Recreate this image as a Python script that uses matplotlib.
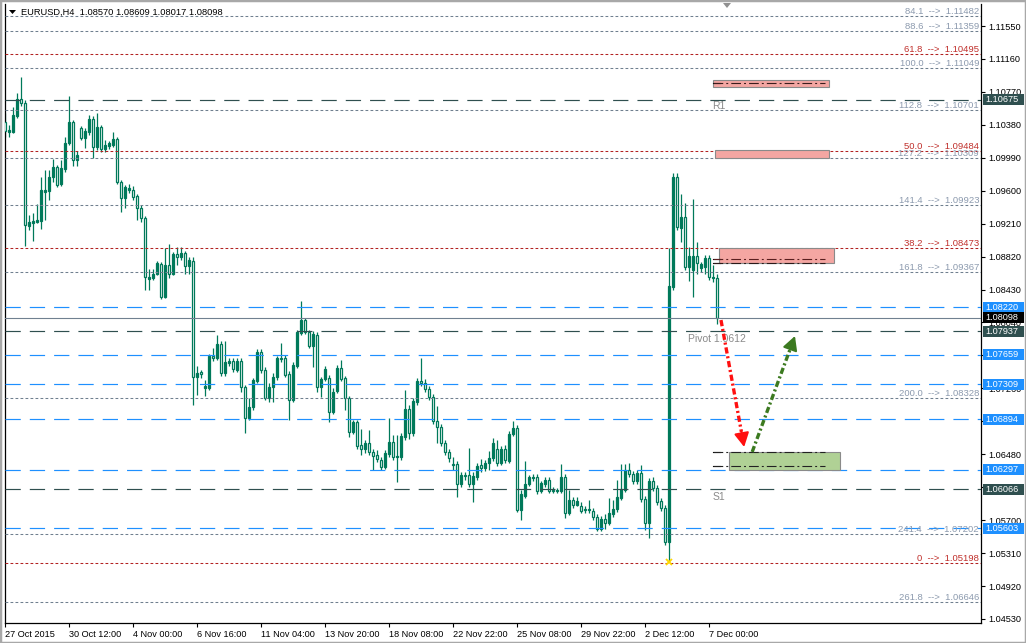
import matplotlib
matplotlib.use('Agg')
import matplotlib.pyplot as plt
from matplotlib.patches import Rectangle, Polygon
from matplotlib.transforms import blended_transform_factory

plt.rcParams['font.family'] = ['Liberation Sans', 'DejaVu Sans']
plt.rcParams['lines.scale_dashes'] = False

# EURUSD H4 candles (bar index 0 = 27 Oct 2015 00:00)
opens = [1.1041, 1.1029, 1.1029, 1.1048, 1.1069, 1.1064, 1.0918, 1.0922, 1.0923, 1.0924,
         1.0958, 1.0960, 1.0976, 1.0988, 1.0968, 1.0986, 1.1016, 1.1041, 1.0996, 1.1034,
         1.1022, 1.1029, 1.1045, 1.1012, 1.1035, 1.1009, 1.1013, 1.1014, 1.1021, 1.0970,
         1.0951, 1.0961, 1.0961, 1.0954, 1.0940, 1.0928, 1.0855, 1.0857, 1.0862, 1.0873,
         1.0834, 1.0872, 1.0862, 1.0885, 1.0881, 1.0886, 1.0871, 1.0877, 1.0739, 1.0745,
         1.0726, 1.0726, 1.0764, 1.0762, 1.0779, 1.0744, 1.0756, 1.0758, 1.0748, 1.0758,
         1.0728, 1.0691, 1.0704, 1.0735, 1.0769, 1.0748, 1.0715, 1.0728, 1.0739, 1.0762,
         1.0762, 1.0743, 1.0712, 1.0752, 1.0792, 1.0807, 1.0793, 1.0776, 1.0789, 1.0728,
         1.0737, 1.0738, 1.0698, 1.0723, 1.0750, 1.0738, 1.0715, 1.0674, 1.0686, 1.0659,
         1.0654, 1.0661, 1.0651, 1.0647, 1.0641, 1.0633, 1.0648, 1.0662, 1.0645, 1.0645,
         1.0668, 1.0702, 1.0673, 1.0710, 1.0735, 1.0732, 1.0725, 1.0716, 1.0687, 1.0680,
         1.0661, 1.0651, 1.0636, 1.0636, 1.0613, 1.0623, 1.0623, 1.0613, 1.0621, 1.0635,
         1.0632, 1.0638, 1.0644, 1.0654, 1.0638, 1.0654, 1.0640, 1.0672, 1.0679, 1.0582,
         1.0599, 1.0613, 1.0620, 1.0621, 1.0604, 1.0613, 1.0617, 1.0606, 1.0604, 1.0604,
         1.0621, 1.0578, 1.0594, 1.0588, 1.0587, 1.0583, 1.0582, 1.0581, 1.0574, 1.0559,
         1.0571, 1.0567, 1.0577, 1.0583, 1.0596, 1.0606, 1.0629, 1.0625, 1.0616, 1.0626,
         1.0595, 1.0567, 1.0616, 1.0608, 1.0593, 1.0584, 1.0544, 1.0846, 1.0976, 1.0916,
         1.0929, 1.0870, 1.0866, 1.0883, 1.0868, 1.0870, 1.0880, 1.0857, 1.08570]
highs = [1.1052, 1.1038, 1.1059, 1.1076, 1.1095, 1.1067, 1.0931, 1.0934, 1.0944, 1.0976,
         1.0985, 1.0985, 1.0997, 1.0991, 1.0996, 1.1024, 1.1072, 1.1044, 1.1007, 1.1037,
         1.1034, 1.1050, 1.1048, 1.1052, 1.1038, 1.1020, 1.1019, 1.1029, 1.1024, 1.0973,
         1.0967, 1.0968, 1.0966, 1.0956, 1.0943, 1.0930, 1.0867, 1.0867, 1.0877, 1.0876,
         1.0892, 1.0897, 1.0887, 1.0893, 1.0893, 1.0889, 1.0881, 1.0881, 1.0752, 1.0748,
         1.0736, 1.0767, 1.0774, 1.0789, 1.0782, 1.0782, 1.0762, 1.0762, 1.0762, 1.0762,
         1.0730, 1.0715, 1.0738, 1.0773, 1.0773, 1.0751, 1.0732, 1.0744, 1.0764, 1.0780,
         1.0765, 1.0747, 1.0757, 1.0795, 1.0829, 1.0809, 1.0795, 1.0794, 1.0793, 1.0739,
         1.0752, 1.0742, 1.0726, 1.0754, 1.0760, 1.0741, 1.0717, 1.0688, 1.0688, 1.0678,
         1.0665, 1.0677, 1.0654, 1.0653, 1.0645, 1.0653, 1.0691, 1.0671, 1.0671, 1.0673,
         1.0724, 1.0706, 1.0715, 1.0738, 1.0762, 1.0737, 1.0729, 1.0719, 1.0705, 1.0684,
         1.0665, 1.0654, 1.0645, 1.0640, 1.0627, 1.0627, 1.0655, 1.0627, 1.0638, 1.0642,
         1.0641, 1.0652, 1.0667, 1.0665, 1.0658, 1.0659, 1.0676, 1.0687, 1.0683, 1.0606,
         1.0640, 1.0623, 1.0625, 1.0625, 1.0616, 1.0621, 1.0621, 1.0609, 1.0608, 1.0636,
         1.0625, 1.0606, 1.0597, 1.0597, 1.0591, 1.0587, 1.0594, 1.0584, 1.0577, 1.0575,
         1.0577, 1.0596, 1.0594, 1.0618, 1.0636, 1.0636, 1.0638, 1.0628, 1.0629, 1.0635,
         1.0598, 1.0620, 1.0621, 1.0612, 1.0596, 1.0588, 1.0892, 1.0981, 1.0981, 1.0956,
         1.0945, 1.0893, 1.0950, 1.0899, 1.0876, 1.0884, 1.0884, 1.0872, 1.08609]
lows = [1.1024, 1.1024, 1.1028, 1.1046, 1.1060, 1.0895, 1.0914, 1.0900, 1.0922, 1.0915,
        1.0925, 1.0949, 1.0970, 1.0964, 1.0966, 1.0982, 1.1014, 1.0989, 1.0989, 1.1020,
        1.1011, 1.1026, 1.0999, 1.1008, 1.1006, 1.1006, 1.1009, 1.1012, 1.0968, 1.0935,
        1.0940, 1.0957, 1.0949, 1.0925, 1.0923, 1.0843, 1.0843, 1.0854, 1.0860, 1.0832,
        1.0833, 1.0857, 1.0860, 1.0872, 1.0878, 1.0862, 1.0862, 1.0706, 1.0718, 1.0738,
        1.0717, 1.0724, 1.0758, 1.0760, 1.0741, 1.0741, 1.0752, 1.0745, 1.0745, 1.0722,
        1.0673, 1.0688, 1.0700, 1.0732, 1.0744, 1.0712, 1.0710, 1.0710, 1.0736, 1.0757,
        1.0739, 1.0688, 1.0710, 1.0750, 1.0789, 1.0790, 1.0774, 1.0751, 1.0722, 1.0716,
        1.0735, 1.0686, 1.0696, 1.0721, 1.0735, 1.0700, 1.0668, 1.0672, 1.0654, 1.0647,
        1.0649, 1.0647, 1.0629, 1.0639, 1.0629, 1.0630, 1.0645, 1.0641, 1.0615, 1.0641,
        1.0665, 1.0666, 1.0670, 1.0706, 1.0729, 1.0722, 1.0712, 1.0684, 1.0661, 1.0658,
        1.0647, 1.0639, 1.0629, 1.0597, 1.0609, 1.0617, 1.0609, 1.0591, 1.0617, 1.0627,
        1.0628, 1.0629, 1.0640, 1.0634, 1.0635, 1.0638, 1.0638, 1.0670, 1.0580, 1.0570,
        1.0596, 1.0610, 1.0616, 1.0601, 1.0602, 1.0609, 1.0602, 1.0602, 1.0602, 1.0602,
        1.0572, 1.0576, 1.0584, 1.0587, 1.0578, 1.0578, 1.0578, 1.0570, 1.0557, 1.0557,
        1.0559, 1.0564, 1.0574, 1.0580, 1.0594, 1.0603, 1.0621, 1.0613, 1.0613, 1.0591,
        1.0558, 1.0549, 1.0604, 1.0588, 1.0581, 1.0541, 1.0520, 1.0843, 1.0914, 1.0899,
        1.0866, 1.0853, 1.0834, 1.0862, 1.0864, 1.0862, 1.0854, 1.0852, 1.08017]
closes = [1.1031, 1.1032, 1.1050, 1.1069, 1.1064, 1.0919, 1.0923, 1.0924, 1.0925, 1.0961,
          1.0961, 1.0976, 1.0988, 1.0967, 1.0987, 1.1016, 1.1041, 1.0996, 1.1002, 1.1022,
          1.1031, 1.1045, 1.1012, 1.1035, 1.1009, 1.1014, 1.1016, 1.1021, 1.0970, 1.0951,
          1.0964, 1.0963, 1.0953, 1.0940, 1.0928, 1.0858, 1.0858, 1.0862, 1.0874, 1.0834,
          1.0872, 1.0862, 1.0885, 1.0881, 1.0886, 1.0871, 1.0878, 1.0739, 1.0744, 1.0743,
          1.0729, 1.0764, 1.0762, 1.0779, 1.0744, 1.0757, 1.0758, 1.0749, 1.0758, 1.0728,
          1.0691, 1.0704, 1.0736, 1.0769, 1.0748, 1.0715, 1.0728, 1.0739, 1.0762, 1.0761,
          1.0742, 1.0712, 1.0754, 1.0793, 1.0807, 1.0793, 1.0776, 1.0790, 1.0728, 1.0737,
          1.0749, 1.0698, 1.0722, 1.0750, 1.0737, 1.0715, 1.0674, 1.0686, 1.0658, 1.0654,
          1.0661, 1.0651, 1.0646, 1.0642, 1.0633, 1.0649, 1.0662, 1.0645, 1.0646, 1.0670,
          1.0702, 1.0673, 1.0711, 1.0735, 1.0732, 1.0725, 1.0716, 1.0687, 1.0680, 1.0661,
          1.0651, 1.0644, 1.0635, 1.0613, 1.0623, 1.0622, 1.0613, 1.0622, 1.0634, 1.0632,
          1.0638, 1.0644, 1.0661, 1.0638, 1.0654, 1.0641, 1.0672, 1.0679, 1.0582, 1.0601,
          1.0613, 1.0621, 1.0621, 1.0604, 1.0614, 1.0617, 1.0604, 1.0604, 1.0606, 1.0621,
          1.0578, 1.0594, 1.0588, 1.0593, 1.0581, 1.0582, 1.0583, 1.0574, 1.0559, 1.0571,
          1.0567, 1.0578, 1.0583, 1.0597, 1.0607, 1.0629, 1.0625, 1.0616, 1.0626, 1.0595,
          1.0567, 1.0616, 1.0608, 1.0591, 1.0584, 1.0544, 1.0847, 1.0976, 1.0917, 1.0929,
          1.0870, 1.0883, 1.0883, 1.0874, 1.0873, 1.0880, 1.0858, 1.0858, 1.08098]

date_ticks = [0, 16, 32, 48, 64, 80, 96, 112, 128, 144, 160, 176]
date_labels = ['27 Oct 2015', '30 Oct 12:00', '4 Nov 00:00', '6 Nov 16:00', '11 Nov 04:00',
               '13 Nov 20:00', '18 Nov 08:00', '22 Nov 22:00', '25 Nov 08:00',
               '29 Nov 22:00', '2 Dec 12:00', '7 Dec 00:00']
price_ticks = [1.04530, 1.04920, 1.05310, 1.05700, 1.06090, 1.06480, 1.06870, 1.07260,
               1.07650, 1.08040, 1.08430, 1.08820, 1.09210, 1.09600, 1.09990, 1.10380,
               1.10770, 1.11160, 1.11550]
# scale labels that sit fully under a price box
hidden_ticks = [1.06090, 1.06870, 1.07650]

# fibonacci levels: (line price, label)
fib_gray = [(1.11672, '84.1  -->  1.11482'), (1.11491, '88.6  -->  1.11359'),
            (1.11049, '100.0  -->  1.11049'), (1.10556, '112.8  -->  1.10701'),
            (1.09984, '127.2  -->  1.10309'), (1.09431, '141.4  -->  1.09923'),
            (1.08634, '161.8  -->  1.09367'), (1.07143, '200.0  -->  1.08328'),
            (1.05532, '241.4  -->  1.07202'), (1.04728, '261.8  -->  1.06646')]
fib_red = [(1.11219, '61.8  -->  1.10495'), (1.10070, '50.0  -->  1.09484'),
           (1.08918, '38.2  -->  1.08473'), (1.05189, '0  -->  1.05198')]

pivot_levels = [1.10675, 1.07937, 1.06066]
blue_levels = [1.08220, 1.07659, 1.07309, 1.06894, 1.06297, 1.05603]
last_price = 1.08098

# zones: x0, x1 (bars), low, high, fill
zones = [(176.9, 205.9, 1.10828, 1.10911, '#F4A6A2'),
         (177.4, 205.9, 1.09987, 1.10082, '#F4A6A2'),
         (178.4, 207.2, 1.08744, 1.08922, '#F4A6A2'),
         (180.9, 208.7, 1.06293, 1.06507, '#B0D195')]
zone_lines = [(1.10875, '#3A1C1C'), (1.08792, '#5A1E1E'), (1.08744, '#2A1A1A'),
              (1.06507, '#222222'), (1.06341, '#222222')]
zone_line_x = (176.9, 204.9)

arrows = [((178.9, 1.08069), (184.7, 1.06566), '#FF1010'),
          ((186.7, 1.06507), (197.4, 1.07880), '#3C7A20')]

W, H = 1026, 643
fig = plt.figure(figsize=(W / 100, H / 100), dpi=100)
fig.patch.set_facecolor('white')
ax = fig.add_axes([5 / W, 1 - 623 / H, 976 / W, 619 / H])
ax.set_xlim(-0.075, 243.9)
ax.set_ylim(1.04482, 1.11811)
ax.set_facecolor('white')
tr = blended_transform_factory(ax.transAxes, ax.transData)

teal = '#00795A'
xs = list(range(len(closes)))
ax.vlines(xs, lows, highs, color=teal, lw=0.9, zorder=2)
bottoms = [min(o, c) for o, c in zip(opens, closes)]
heights = [abs(c - o) for o, c in zip(opens, closes)]
faces = [teal if c > o else 'white' for o, c in zip(opens, closes)]
ax.bar(xs, heights, 0.55, bottoms, color=faces, edgecolor=teal, linewidth=0.9, zorder=3)

dot = (0, (2.0, 1.6))
dash = (0, (11, 6.5))
for p, lab in fib_gray:
    ax.axhline(p, color='#6F7F8F', lw=0.75, ls=dot, zorder=4)
    ax.text(0.998, p, lab, transform=tr, ha='right', va='bottom', fontsize=6.8,
            color='#8C9AAE', zorder=5)
for p, lab in fib_red:
    ax.axhline(p, color='#B22222', lw=0.75, ls=dot, zorder=4)
    ax.text(0.998, p, lab, transform=tr, ha='right', va='bottom', fontsize=6.8,
            color='#C0302C', zorder=5)
for p in pivot_levels:
    ax.axhline(p, color='#2F4F4F', lw=0.85, ls=dash, zorder=4)
for p in blue_levels:
    ax.axhline(p, color='#1E90FF', lw=0.85, ls=dash, zorder=4)
ax.axhline(last_price, color='#708090', lw=0.8, zorder=4)

for x0, x1, lo, hi, fc in zones:
    ax.add_patch(Rectangle((x0, lo), x1 - x0, hi - lo, fc=fc, ec='#8A8A8A', lw=0.8, zorder=5))
for p, col in zone_lines:
    ax.plot([zone_line_x[0], zone_line_x[0] + 1.8], [p, p], color='black', lw=0.8, zorder=6)
    ax.plot(zone_line_x, [p, p], color=col, lw=0.8, ls=(0, (7, 2.2, 1.4, 2.2)), zorder=6)

ax.text(176.7, 1.10662, 'R1', fontsize=7.5, color='#8A8A8A', va='top', zorder=6)
ax.text(176.7, 1.06033, 'S1', fontsize=7.5, color='#8A8A8A', va='top', zorder=6)
ax.text(170.7, 1.07904, 'Pivot 1.0612', fontsize=7.5, color='#8A8A8A', va='top', zorder=6)

for (x0, y0), (x1, y1), col in arrows:
    # dash-dot shaft, solid head
    xm, ym = x0 + 0.88 * (x1 - x0), y0 + 0.88 * (y1 - y0)
    ax.plot([x0, xm], [y0, ym], color=col, lw=2.4, ls=(0, (4.5, 2.0, 1.5, 2.0)),
            solid_capstyle='butt', dash_capstyle='butt', zorder=7)
    ax.annotate('', xy=(x1, y1), xytext=(xm, ym), zorder=7,
                arrowprops=dict(arrowstyle='-|>,head_length=0.6,head_width=0.32',
                                color=col, lw=1.5, shrinkA=0, shrinkB=0, mutation_scale=14))

ax.plot(166, 1.0520, marker='x', color='#FFD700', ms=4, mew=1.3, zorder=7)

# axes / ticks
ax.spines['top'].set_visible(False)
for s in ['left', 'bottom', 'right']:
    ax.spines[s].set_color('black')
    ax.spines[s].set_linewidth(0.9)
ax.yaxis.tick_right()
ax.set_yticks(price_ticks)
ax.set_yticklabels(['' if p in hidden_ticks else '%.5f' % p for p in price_ticks])
ax.tick_params(axis='y', direction='out', length=3, width=0.8, pad=2, labelsize=6.6)
ax.set_xticks(date_ticks)
ax.set_xticklabels(date_labels)
ax.tick_params(axis='x', direction='out', length=3, width=0.8, pad=2, labelsize=6.6)
for lbl in ax.get_xticklabels():
    lbl.set_ha('left')

# price boxes on right scale
boxes = [(p, '#2F4F4F') for p in pivot_levels] + [(p, '#1E90FF') for p in blue_levels]
boxes.append((last_price, 'black'))
hh = 5.5 * (1.11811 - 1.04482) / 619
for p, col in boxes:
    ax.add_patch(Rectangle((1.002, p - hh), 0.042, 2 * hh, transform=tr, fc=col, ec='none',
                           clip_on=False, zorder=10))
    ax.text(1.0045, p, '%.5f' % p, transform=tr, color='white', fontsize=6.6, va='center',
            ha='left', clip_on=False, zorder=11)

# title and small markers
fig.text(21 / W, 1 - 12 / H, 'EURUSD,H4  1.08570 1.08609 1.08017 1.08098', fontsize=6.7,
         color='black', va='center', ha='left')
fig.patches.append(Polygon([[9 / W, 1 - 10 / H], [16 / W, 1 - 10 / H], [12.5 / W, 1 - 14 / H]],
                           closed=True, transform=fig.transFigure, fc='black', ec='none'))
fig.patches.append(Polygon([[723 / W, 1 - 3 / H], [731 / W, 1 - 3 / H], [727 / W, 1 - 8 / H]],
                           closed=True, transform=fig.transFigure, fc='#909090', ec='none'))
fig.patches.append(Rectangle((0, 0), 1, 1, transform=fig.transFigure, fill=False,
                             ec='#A8A8A8', lw=2.5))

fig.savefig('out.png', dpi=100)
